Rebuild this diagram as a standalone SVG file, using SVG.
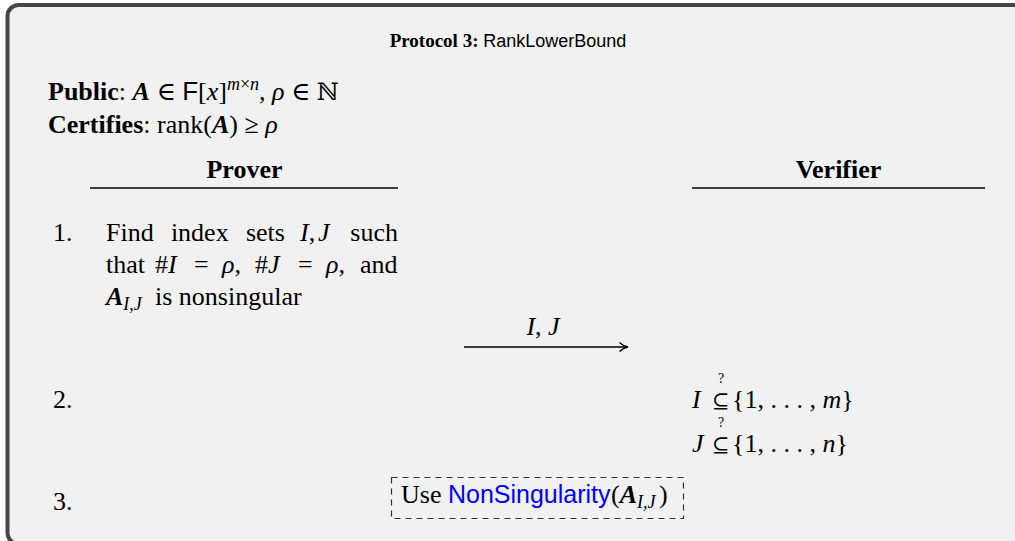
<svg xmlns="http://www.w3.org/2000/svg" width="1015" height="541" viewBox="0 0 1015 541">
<style>
.s{font-family:"Liberation Serif","DejaVu Serif",serif;font-size:26px;fill:#000}
.b{font-weight:bold}
.i{font-style:italic}
.bi{font-weight:bold;font-style:italic}
.sf{font-family:"Liberation Sans",Arial,sans-serif}
.sub{font-size:18px;font-style:italic}
.q{font-family:"Liberation Serif",serif;font-size:14px;fill:#000}
.sube{font-family:"DejaVu Serif",serif;font-size:21px;fill:#000}
.rule{stroke:#000;stroke-width:1.3}
</style>
<rect x="7.5" y="5" width="1040" height="539" rx="11" fill="#f1f1f1" stroke="#454545" stroke-width="4"/>
<g id="title">
<text x="508" y="47" text-anchor="middle" class="s" style="font-size:19px"><tspan class="b">Protocol 3:</tspan> <tspan class="sf" style="font-size:18px">RankLowerBound</tspan></text>
</g>
<g id="header">
<text x="48" y="100" class="s"><tspan class="b">Public</tspan>: <tspan class="bi">A</tspan> ∈ <tspan class="sf">F</tspan>[<tspan class="i">x</tspan>]<tspan class="i" style="font-size:18px" dy="-10">m</tspan><tspan style="font-size:18px">×</tspan><tspan class="i" style="font-size:18px">n</tspan><tspan dy="10">, </tspan><tspan class="i">ρ</tspan> ∈ <tspan font-family="DejaVu Serif" style="font-size:24px">ℕ</tspan></text>
<text x="48" y="133" class="s"><tspan class="b">Certifies</tspan>: rank(<tspan class="bi">A</tspan>) ≥ <tspan class="i">ρ</tspan></text>
</g>
<g id="prover">
<text x="244.5" y="178" text-anchor="middle" class="s b">Prover</text>
<line x1="90" y1="188" x2="398" y2="188" class="rule"/>
</g>
<g id="verifier">
<text x="838.5" y="178" text-anchor="middle" class="s b">Verifier</text>
<line x1="692" y1="188" x2="985" y2="188" class="rule"/>
</g>
<g id="step1">
<text x="53" y="241" class="s">1.</text>
<text y="241" class="s"><tspan x="106">Find</tspan><tspan x="170.9">index</tspan><tspan x="245.9">sets</tspan><tspan x="300" class="i">I</tspan><tspan>,</tspan><tspan x="318" class="i">J</tspan><tspan x="350.3">such</tspan></text>
<text y="273" class="s"><tspan x="106">that</tspan><tspan x="155">#</tspan><tspan class="i">I</tspan><tspan x="194">=</tspan><tspan x="222" class="i">ρ</tspan><tspan>,</tspan><tspan x="255">#</tspan><tspan class="i">J</tspan><tspan x="298">=</tspan><tspan x="326" class="i">ρ</tspan><tspan>,</tspan><tspan x="360">and</tspan></text>
<text y="305" class="s"><tspan x="106" class="bi">A</tspan><tspan class="sub" dy="5">I,J</tspan><tspan dy="-5" x="155">is nonsingular</tspan></text>
</g>
<g id="connectors">
<text x="543" y="335" text-anchor="middle" class="s i">I<tspan font-style="normal">,</tspan> J</text>
<line x1="464" y1="347" x2="627" y2="347" stroke="#000" stroke-width="1.3"/>
<path d="M619.5,342.5 Q623,346 628,347 Q623,348 619.5,351.5" fill="none" stroke="#000" stroke-width="1.3"/>
</g>
<g id="step2">
<text x="53" y="408" class="s">2.</text>
<text x="692" y="408" class="s i">I</text>
<text x="712" y="408" class="sube">⊆</text>
<text x="721" y="383" text-anchor="middle" class="q">?</text>
<text x="732" y="408" class="s">{1, . . . , <tspan class="i">m</tspan>}</text>
<text x="692" y="452" class="s i">J</text>
<text x="712" y="452" class="sube">⊆</text>
<text x="721" y="427" text-anchor="middle" class="q">?</text>
<text x="732" y="452" class="s">{1, . . . , <tspan class="i">n</tspan>}</text>
</g>
<g id="step3">
<text x="53" y="510" class="s">3.</text>
<rect x="391.5" y="477.5" width="292" height="41" fill="none" stroke="#333" stroke-width="1.2" stroke-dasharray="6,5"/>
<text x="401" y="503" class="s">Use <tspan class="sf" fill="#0000ff" style="font-size:25px">NonSingularity</tspan><tspan x="611">(</tspan><tspan class="bi">A</tspan><tspan class="sub" dy="5">I,J</tspan><tspan dy="-5" x="659">)</tspan></text>
</g>
</svg>
